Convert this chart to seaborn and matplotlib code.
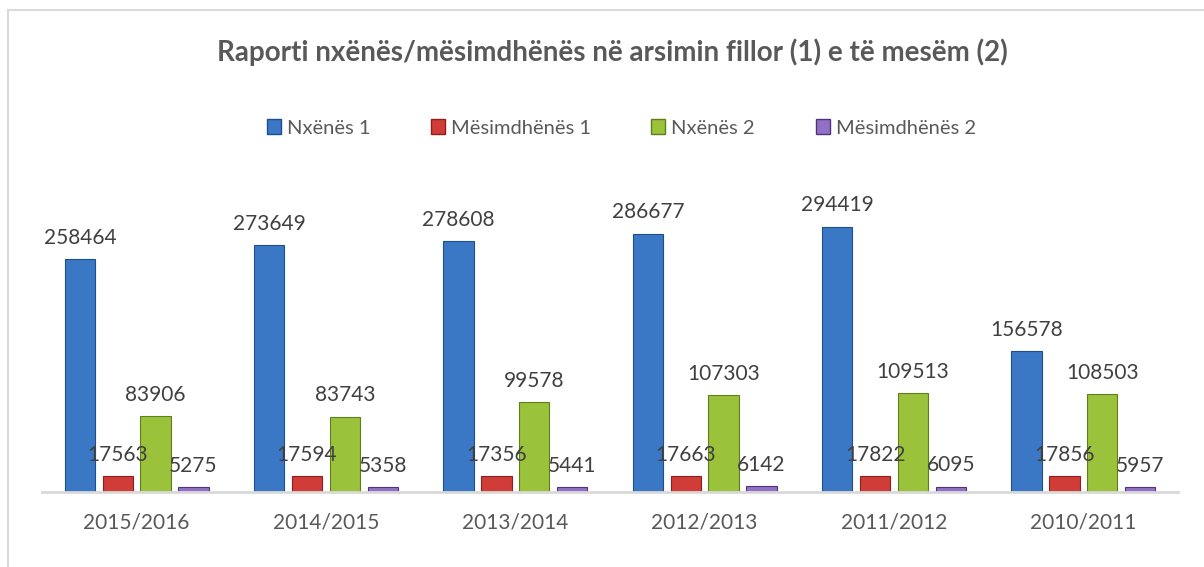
import matplotlib
matplotlib.use("Agg")
import matplotlib.pyplot as plt
import matplotlib.patches as mpatches
import pandas as pd
import seaborn as sns

years = ["2015/2016", "2014/2015", "2013/2014", "2012/2013", "2011/2012", "2010/2011"]
series = ["Nxënës 1", "Mësimdhënës 1", "Nxënës 2", "Mësimdhënës 2"]
nxenes_1 = [258464, 273649, 278608, 286677, 294419, 156578]
mesimdhenes_1 = [17563, 17594, 17356, 17663, 17822, 17856]
nxenes_2 = [83906, 83743, 99578, 107303, 109513, 108503]
mesimdhenes_2 = [5275, 5358, 5441, 6142, 6095, 5957]

colors = ["#3A78C6", "#D03C37", "#9BC23B", "#9370C8"]
edges = ["#1F4E8C", "#8E1F1C", "#5F7F1E", "#4F3578"]

df = pd.DataFrame({"year": years * 4,
                   "serie": [s for s in series for _ in years],
                   "value": nxenes_1 + mesimdhenes_1 + nxenes_2 + mesimdhenes_2})

sns.set_style("white")
plt.rcParams["font.family"] = ["Lato", "DejaVu Sans"]

fig = plt.figure(figsize=(12.04, 5.67), dpi=100)
ax = fig.add_axes([42 / 1204, (567 - 492) / 567, (1178 - 42) / 1204, 300 / 567])

sns.barplot(data=df, x="year", y="value", hue="serie", palette=colors,
            saturation=1, width=0.8, gap=0.2, ax=ax, legend=False)

for i, cont in enumerate(ax.containers):
    for bar in cont:
        bar.set_edgecolor(edges[i])
        bar.set_linewidth(0.8)
    ax.bar_label(cont, fmt="%d", padding=8, fontsize=15, color="#404040")

ax.set_ylim(0, 300 / 233 * 258464)
ax.set_xlim(-0.5, 5.5)
ax.set_xlabel("")
ax.set_ylabel("")
ax.set_yticks([])
for s in ["top", "right", "left"]:
    ax.spines[s].set_visible(False)
ax.spines["bottom"].set_color("#D9D9D9")
ax.spines["bottom"].set_linewidth(2)
ax.tick_params(axis="x", length=0, labelsize=15, labelcolor="#595959", pad=15)

fig.text(0.509, 1 - 52 / 567, "Raporti nxënës/mësimdhënës në arsimin fillor (1) e të mesëm (2)",
         ha="center", va="center", fontsize=20, fontweight="bold", color="#595959")

handles = [mpatches.Patch(facecolor=colors[i], edgecolor=edges[i], label=series[i]) for i in range(4)]
fig.legend(handles=handles, loc="center", bbox_to_anchor=(0.516, 1 - 128 / 567), ncol=4,
           frameon=False, fontsize=14.5, labelcolor="#595959", handlelength=0.7,
           handleheight=0.7, handletextpad=0.3, columnspacing=3.0)

fig.patches.append(mpatches.Rectangle((8 / 1204, -0.1), 1.2, 1 - 10 / 567 + 0.1,
                                      transform=fig.transFigure, fill=False,
                                      edgecolor="#D9D9D9", linewidth=1.5))

fig.savefig("out.png", dpi=100)
